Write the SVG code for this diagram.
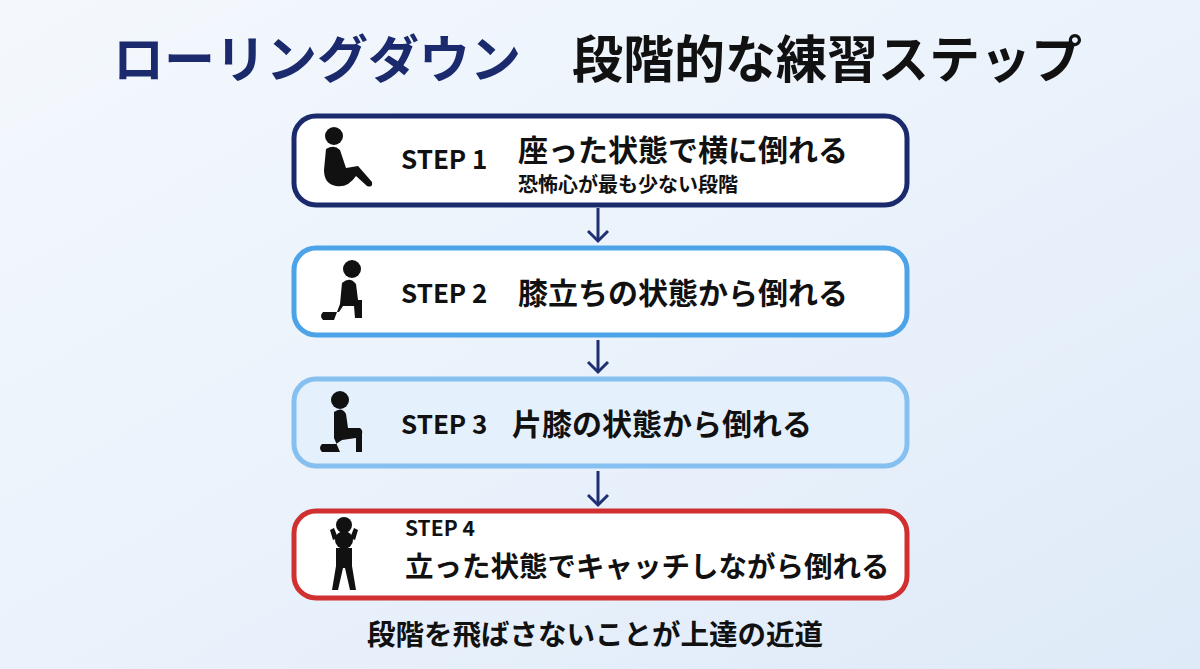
<svg xmlns="http://www.w3.org/2000/svg" width="1200" height="669" viewBox="0 0 1200 669">
<defs>
<linearGradient id="bg" x1="0" y1="0" x2="1" y2="1"><stop offset="0" stop-color="#f4f8fd"/><stop offset="0.5" stop-color="#eaf2fb"/><stop offset="1" stop-color="#dfeaf8"/></linearGradient>
</defs>
<style>
text{font-family:"Noto Sans CJK JP","Noto Sans",sans-serif;font-weight:700;fill:#111}
.step{font-size:26px}
.main{font-size:30px}
.box{stroke-width:5}
.ico{fill:#111}
.arr{stroke:#1f2f72;stroke-width:3;fill:none}
</style>
<rect width="1200" height="669" fill="url(#bg)"/>
<text x="113" y="78" font-size="51" style="fill:#1a2a6c">ローリングダウン</text>
<text x="572" y="78" font-size="51">段階的な練習ステップ</text>
<g id="connectors">
<line class="arr" x1="598" y1="208" x2="598" y2="241"/><polyline class="arr" points="588,231 598,241 608,231"/>
<line class="arr" x1="598" y1="340" x2="598" y2="372"/><polyline class="arr" points="588,362 598,372 608,362"/>
<line class="arr" x1="598" y1="471" x2="598" y2="505"/><polyline class="arr" points="588,495 598,505 608,495"/>
</g>
<g id="step1">
<rect class="box" x="294" y="116" width="613" height="89" rx="22" fill="#fff" stroke="#1a2a6c"/>
<circle class="ico" cx="334" cy="136" r="9"/>
<path class="ico" d="M326,149 Q334,144 340,150 L346,168 L358,166 L372,182 Q373,188 367,186 L356,176 Q348,188 336,186 Q324,184 324,170 Z"/>
<text class="step" x="401" y="169">STEP 1</text>
<text class="main" x="518" y="161">座った状態で横に倒れる</text>
<text x="518" y="192" font-size="20">恐怖心が最も少ない段階</text>
</g>
<g id="step2">
<rect class="box" x="294" y="248" width="613" height="87" rx="22" fill="#fff" stroke="#4da3e8"/>
<circle class="ico" cx="352" cy="269" r="9"/>
<path class="ico" d="M342,283 Q350,276 356,284 L358,300 L362,300 L362,318 L355,318 L354,306 L343,306 L339,312 L323,312 Q319,316 323,320 L334,320 L340,304 Z"/>
<text class="step" x="401" y="303">STEP 2</text>
<text class="main" x="518" y="304">膝立ちの状態から倒れる</text>
</g>
<g id="step3">
<rect class="box" x="294" y="379" width="613" height="87" rx="22" fill="#e4f0fc" stroke="#86c0f0"/>
<circle class="ico" cx="340" cy="400" r="9"/>
<path class="ico" d="M334,412 Q342,406 346,414 L348,428 L360,428 Q363,430 362,434 L362,452 L356,452 L356,438 L342,440 L336,444 L322,444 Q318,448 322,452 L340,452 L334,438 Z"/>
<text class="step" x="401" y="434">STEP 3</text>
<text class="main" x="512" y="435">片膝の状態から倒れる</text>
</g>
<g id="step4">
<rect class="box" x="294" y="511" width="613" height="87" rx="22" fill="#fff" stroke="#d03030"/>
<circle class="ico" cx="344" cy="525" r="8"/>
<circle class="ico" cx="344" cy="540" r="9"/>
<path class="ico" d="M333,540 L330,530 L334,528 L338,538 Z M355,540 L358,530 L354,528 L350,538 Z"/>
<path class="ico" d="M336,548 L352,548 L352,566 L356,590 L350,590 L345,568 L343,568 L338,590 L332,590 L336,566 Z"/>
<text x="405" y="536" font-size="21">STEP 4</text>
<text x="405" y="577" style="font-size:28.5px">立った状態でキャッチしながら倒れる</text>
</g>
<text x="367" y="645" style="font-size:28.5px">段階を飛ばさないことが上達の近道</text>
</svg>
